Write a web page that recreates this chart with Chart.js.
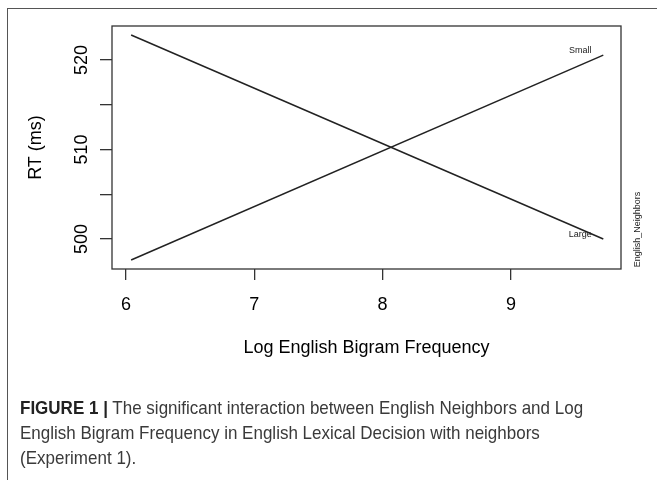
<!DOCTYPE html>
<html>
<head>
<meta charset="utf-8">
<script src="https://cdn.jsdelivr.net/npm/chart.js@4.4.0/dist/chart.umd.min.js"></script>
<style>
  html, body { margin: 0; padding: 0; background: #fff; }
  #page { position: relative; width: 657px; height: 480px; overflow: hidden; }
  #frame { position: absolute; left: 7px; top: 8px; width: 720px; height: 520px;
           border-left: 1.5px solid #555; border-top: 1.5px solid #555; }
  #chart { position: absolute; left: 0; top: 0; }
  #caption { position: absolute; left: 20px; top: 395px; width: 720px;
             font-family: "Liberation Sans Narrow", "Arial Narrow", "Liberation Sans", sans-serif;
             font-size: 19px; line-height: 25px; color: #3a3a3a; white-space: nowrap;
             transform: scaleX(0.895); transform-origin: 0 0; }
  #caption b { color: #222; }
</style>
</head>
<body>
<div id="page">
  <div id="frame"></div>
  <canvas id="chart" width="657" height="480"></canvas>
  <div id="caption">
    <b>FIGURE 1 |</b> The significant interaction between English Neighbors and Log<br>
    English Bigram Frequency in English Lexical Decision with neighbors<br>
    (Experiment 1).
  </div>
</div>
<script>
// --- data ---
const bigramFreq = [6.04, 9.72];          // x at the two ends of each fitted line
const rtLarge = [522.8, 500.0];           // English_Neighbors = Large
const rtSmall = [497.65, 520.55];         // English_Neighbors = Small
const groupNames = ['Small', 'Large'];
const xTickValues = [6, 7, 8, 9];
const yTickValues = [500, 505, 510, 515, 520];
const yLabelValues = [500, 510, 520];

const ink = '#222';
const axisFont = { family: 'Liberation Sans, Arial, sans-serif', size: 18 };

const toPoints = ys => bigramFreq.map((x, i) => ({ x: x, y: ys[i] }));

// box round the plot, rotated y labels, line labels and the side legend title
const rPlotLook = {
    id: 'rPlotLook',
    afterDraw(chart) {
        const { ctx, chartArea: a, scales } = chart;
        ctx.save();
        ctx.strokeStyle = '#333';
        ctx.lineWidth = 1.3;
        ctx.strokeRect(a.left, a.top, a.right - a.left, a.bottom - a.top);

        // y tick labels, R style (read upwards)
        ctx.fillStyle = '#000';
        ctx.font = '18px "Liberation Sans", Arial, sans-serif';
        ctx.textAlign = 'center';
        ctx.textBaseline = 'alphabetic';
        yLabelValues.forEach(v => {
            ctx.save();
            ctx.translate(a.left - 25, scales.y.getPixelForValue(v));
            ctx.rotate(-Math.PI / 2);
            ctx.fillText(String(v), 0, 0);
            ctx.restore();
        });

        // group names next to the right end of each line
        ctx.fillStyle = ink;
        ctx.font = '9px "Liberation Sans", Arial, sans-serif';
        chart.data.datasets.forEach(ds => {
            const last = ds.data[ds.data.length - 1];
            const px = scales.x.getPixelForValue(last.x);
            const py = scales.y.getPixelForValue(last.y);
            ctx.fillText(ds.label, px - 23, py - 2);
        });

        ctx.save();
        ctx.translate(a.right + 19, (a.top + a.bottom) / 2 + 82);
        ctx.rotate(-Math.PI / 2);
        ctx.fillText('English_Neighbors', 0, 0);
        ctx.restore();
        ctx.restore();
    }
};

new Chart(document.getElementById('chart'), {
    type: 'scatter',
    data: {
        datasets: [
            { label: groupNames[0], data: toPoints(rtSmall), showLine: true,
              borderColor: ink, borderWidth: 1.5, pointRadius: 0 },
            { label: groupNames[1], data: toPoints(rtLarge), showLine: true,
              borderColor: ink, borderWidth: 1.5, pointRadius: 0 }
        ]
    },
    options: {
        responsive: false,
        animation: false,
        layout: { padding: { left: 0, top: 26, right: 36, bottom: 121 } },
        plugins: { legend: { display: false }, tooltip: { enabled: false } },
        scales: {
            x: {
                type: 'linear',
                min: 5.891, max: 9.858,
                afterBuildTicks: s => { s.ticks = xTickValues.map(v => ({ value: v })); },
                afterFit: s => { s.height = 90; },
                border: { display: false },
                grid: { drawOnChartArea: false, tickLength: 11, color: '#333', lineWidth: 1.3 },
                ticks: { color: '#000', font: axisFont, padding: 14, maxRotation: 0,
                         callback: v => String(v) },
                title: { display: true, text: 'Log English Bigram Frequency', color: '#000',
                         font: axisFont, padding: { top: 0, bottom: 0 } }
            },
            y: {
                type: 'linear',
                min: 496.65, max: 523.8,
                afterBuildTicks: s => { s.ticks = yTickValues.map(v => ({ value: v })); },
                afterFit: s => { s.width = 112; },
                border: { display: false },
                grid: { drawOnChartArea: false, tickLength: 12, color: '#333', lineWidth: 1.3 },
                ticks: { display: false },
                title: { display: true, text: 'RT (ms)', color: '#000', font: axisFont,
                         padding: { top: 25, bottom: 0 } }
            }
        }
    },
    plugins: [rPlotLook]
});
</script>
</body>
</html>
